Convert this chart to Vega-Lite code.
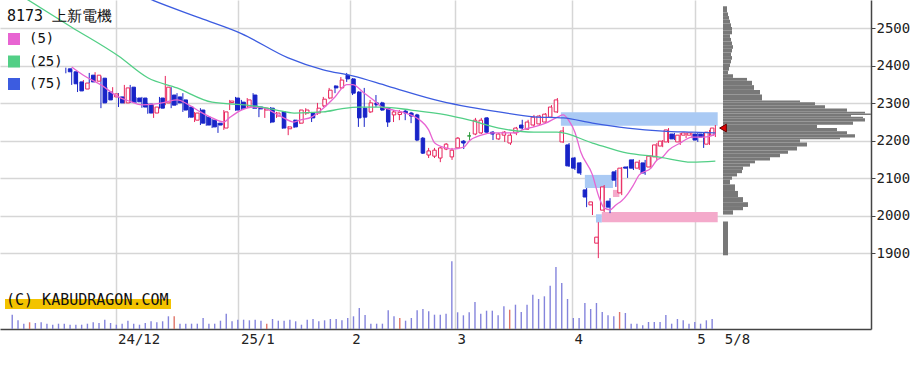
{
"$schema": "https://vega.github.io/schema/vega-lite/v6.json",
"width": 871, "height": 329,
"autosize": "none",
"padding": {"left": 0, "top": 0, "right": 53, "bottom": 36},
"background": "white",
"config": {"view": {"stroke": null}, "font": "DejaVu Sans Mono"},
"datasets": {
"candles": [
{"i":0,"o":2565,"h":2572,"l":2500,"c":2508,"v":143,"k":"n"},
{"i":1,"o":2505,"h":2515,"l":2498,"c":2510,"v":87,"k":"n"},
{"i":2,"o":2505,"h":2516,"l":2500,"c":2512,"v":53,"k":"n"},
{"i":3,"o":2506,"h":2518,"l":2500,"c":2513,"v":67,"k":"r"},
{"i":4,"o":2500,"h":2505,"l":2440,"c":2447,"v":60,"k":"n"},
{"i":5,"o":2442,"h":2455,"l":2436,"c":2450,"v":67,"k":"n"},
{"i":6,"o":2440,"h":2452,"l":2434,"c":2448,"v":53,"k":"n"},
{"i":7,"o":2443,"h":2456,"l":2440,"c":2451,"v":43,"k":"n"},
{"i":8,"o":2444,"h":2455,"l":2436,"c":2450,"v":53,"k":"n"},
{"i":9,"o":2440,"h":2442,"l":2390,"c":2396,"v":53,"k":"n"},
{"i":10,"o":2392,"h":2395,"l":2380,"c":2384,"v":43,"k":"n"},
{"i":11,"o":2384,"h":2389,"l":2349,"c":2352,"v":43,"k":"n"},
{"i":12,"o":2357,"h":2362,"l":2330,"c":2333,"v":43,"k":"n"},
{"i":13,"o":2338,"h":2362,"l":2335,"c":2354,"v":53,"k":"n"},
{"i":14,"o":2375,"h":2381,"l":2354,"c":2357,"v":67,"k":"n"},
{"i":15,"o":2359,"h":2383,"l":2357,"c":2375,"v":60,"k":"n"},
{"i":16,"o":2367,"h":2372,"l":2287,"c":2301,"v":93,"k":"n"},
{"i":17,"o":2330,"h":2343,"l":2303,"c":2309,"v":60,"k":"n"},
{"i":18,"o":2317,"h":2343,"l":2314,"c":2325,"v":43,"k":"n"},
{"i":19,"o":2317,"h":2327,"l":2290,"c":2301,"v":53,"k":"n"},
{"i":20,"o":2301,"h":2349,"l":2299,"c":2341,"v":83,"k":"n"},
{"i":21,"o":2343,"h":2349,"l":2301,"c":2303,"v":53,"k":"n"},
{"i":22,"o":2314,"h":2316,"l":2301,"c":2304,"v":43,"k":"n"},
{"i":23,"o":2314,"h":2317,"l":2288,"c":2290,"v":60,"k":"n"},
{"i":24,"o":2298,"h":2301,"l":2272,"c":2274,"v":77,"k":"n"},
{"i":25,"o":2274,"h":2295,"l":2261,"c":2290,"v":67,"k":"n"},
{"i":26,"o":2314,"h":2317,"l":2286,"c":2287,"v":77,"k":"n"},
{"i":27,"o":2301,"h":2373,"l":2295,"c":2343,"v":127,"k":"n"},
{"i":28,"o":2322,"h":2343,"l":2287,"c":2295,"v":127,"k":"r"},
{"i":29,"o":2317,"h":2327,"l":2295,"c":2301,"v":53,"k":"n"},
{"i":30,"o":2309,"h":2327,"l":2277,"c":2282,"v":53,"k":"n"},
{"i":31,"o":2290,"h":2295,"l":2261,"c":2263,"v":53,"k":"n"},
{"i":32,"o":2255,"h":2277,"l":2250,"c":2274,"v":53,"k":"n"},
{"i":33,"o":2282,"h":2287,"l":2242,"c":2247,"v":110,"k":"n"},
{"i":34,"o":2263,"h":2266,"l":2240,"c":2242,"v":53,"k":"n"},
{"i":35,"o":2255,"h":2258,"l":2234,"c":2237,"v":53,"k":"n"},
{"i":36,"o":2247,"h":2248,"l":2221,"c":2242,"v":83,"k":"n"},
{"i":37,"o":2234,"h":2282,"l":2229,"c":2277,"v":153,"k":"n"},
{"i":38,"o":2302,"h":2309,"l":2282,"c":2306,"v":77,"k":"n"},
{"i":39,"o":2314,"h":2317,"l":2280,"c":2282,"v":93,"k":"n"},
{"i":40,"o":2303,"h":2309,"l":2282,"c":2287,"v":93,"k":"n"},
{"i":41,"o":2290,"h":2314,"l":2287,"c":2309,"v":87,"k":"n"},
{"i":42,"o":2322,"h":2327,"l":2285,"c":2287,"v":93,"k":"n"},
{"i":43,"o":2290,"h":2292,"l":2263,"c":2285,"v":83,"k":"n"},
{"i":44,"o":2282,"h":2290,"l":2261,"c":2287,"v":53,"k":"r"},
{"i":45,"o":2287,"h":2290,"l":2247,"c":2250,"v":100,"k":"n"},
{"i":46,"o":2266,"h":2277,"l":2261,"c":2274,"v":83,"k":"n"},
{"i":47,"o":2277,"h":2279,"l":2232,"c":2234,"v":83,"k":"n"},
{"i":48,"o":2232,"h":2239,"l":2215,"c":2237,"v":93,"k":"n"},
{"i":49,"o":2255,"h":2256,"l":2234,"c":2237,"v":77,"k":"n"},
{"i":50,"o":2247,"h":2283,"l":2245,"c":2282,"v":43,"k":"n"},
{"i":51,"o":2274,"h":2287,"l":2269,"c":2282,"v":93,"k":"n"},
{"i":52,"o":2274,"h":2277,"l":2250,"c":2261,"v":100,"k":"n"},
{"i":53,"o":2274,"h":2301,"l":2269,"c":2287,"v":77,"k":"n"},
{"i":54,"o":2293,"h":2317,"l":2290,"c":2311,"v":87,"k":"n"},
{"i":55,"o":2314,"h":2341,"l":2311,"c":2335,"v":100,"k":"n"},
{"i":56,"o":2346,"h":2348,"l":2327,"c":2341,"v":100,"k":"n"},
{"i":57,"o":2341,"h":2370,"l":2339,"c":2362,"v":87,"k":"n"},
{"i":58,"o":2375,"h":2381,"l":2357,"c":2365,"v":110,"k":"n"},
{"i":59,"o":2365,"h":2367,"l":2322,"c":2327,"v":127,"k":"n"},
{"i":60,"o":2330,"h":2332,"l":2237,"c":2261,"v":210,"k":"n"},
{"i":61,"o":2287,"h":2341,"l":2237,"c":2263,"v":140,"k":"n"},
{"i":62,"o":2277,"h":2309,"l":2274,"c":2301,"v":53,"k":"n"},
{"i":63,"o":2301,"h":2322,"l":2290,"c":2296,"v":53,"k":"n"},
{"i":64,"o":2301,"h":2304,"l":2280,"c":2282,"v":53,"k":"n"},
{"i":65,"o":2287,"h":2290,"l":2237,"c":2250,"v":187,"k":"n"},
{"i":66,"o":2269,"h":2282,"l":2250,"c":2277,"v":127,"k":"n"},
{"i":67,"o":2270,"h":2282,"l":2255,"c":2276,"v":110,"k":"r"},
{"i":68,"o":2279,"h":2282,"l":2255,"c":2274,"v":83,"k":"n"},
{"i":69,"o":2274,"h":2277,"l":2247,"c":2266,"v":110,"k":"n"},
{"i":70,"o":2269,"h":2272,"l":2199,"c":2202,"v":187,"k":"n"},
{"i":71,"o":2207,"h":2210,"l":2165,"c":2167,"v":200,"k":"n"},
{"i":72,"o":2162,"h":2181,"l":2154,"c":2173,"v":177,"k":"n"},
{"i":73,"o":2159,"h":2181,"l":2154,"c":2175,"v":143,"k":"n"},
{"i":74,"o":2154,"h":2183,"l":2143,"c":2181,"v":143,"k":"n"},
{"i":75,"o":2178,"h":2194,"l":2175,"c":2191,"v":153,"k":"n"},
{"i":76,"o":2157,"h":2181,"l":2149,"c":2175,"v":677,"k":"n"},
{"i":77,"o":2181,"h":2210,"l":2179,"c":2207,"v":167,"k":"n"},
{"i":78,"o":2199,"h":2202,"l":2178,"c":2194,"v":137,"k":"n"},
{"i":79,"o":2213,"h":2223,"l":2202,"c":2213,"v":167,"k":"n"},
{"i":80,"o":2218,"h":2261,"l":2215,"c":2255,"v":270,"k":"n"},
{"i":81,"o":2221,"h":2261,"l":2218,"c":2255,"v":153,"k":"n"},
{"i":82,"o":2261,"h":2263,"l":2220,"c":2223,"v":183,"k":"n"},
{"i":83,"o":2223,"h":2226,"l":2202,"c":2218,"v":183,"k":"n"},
{"i":84,"o":2205,"h":2221,"l":2202,"c":2218,"v":137,"k":"n"},
{"i":85,"o":2215,"h":2226,"l":2197,"c":2223,"v":227,"k":"n"},
{"i":86,"o":2194,"h":2221,"l":2189,"c":2215,"v":193,"k":"r"},
{"i":87,"o":2221,"h":2237,"l":2215,"c":2234,"v":243,"k":"n"},
{"i":88,"o":2242,"h":2256,"l":2229,"c":2234,"v":170,"k":"n"},
{"i":89,"o":2231,"h":2256,"l":2229,"c":2250,"v":243,"k":"n"},
{"i":90,"o":2242,"h":2269,"l":2237,"c":2263,"v":343,"k":"n"},
{"i":91,"o":2245,"h":2269,"l":2242,"c":2266,"v":300,"k":"n"},
{"i":92,"o":2250,"h":2274,"l":2247,"c":2271,"v":327,"k":"n"},
{"i":93,"o":2263,"h":2295,"l":2261,"c":2290,"v":433,"k":"n"},
{"i":94,"o":2277,"h":2314,"l":2274,"c":2309,"v":620,"k":"n"},
{"i":95,"o":2197,"h":2237,"l":2194,"c":2226,"v":460,"k":"n"},
{"i":96,"o":2189,"h":2194,"l":2130,"c":2133,"v":300,"k":"n"},
{"i":97,"o":2154,"h":2157,"l":2122,"c":2127,"v":110,"k":"n"},
{"i":98,"o":2141,"h":2143,"l":2109,"c":2114,"v":110,"k":"n"},
{"i":99,"o":2069,"h":2074,"l":2023,"c":2050,"v":260,"k":"n"},
{"i":100,"o":2029,"h":2037,"l":2002,"c":2037,"v":200,"k":"n"},
{"i":101,"o":1927,"h":1983,"l":1887,"c":1943,"v":260,"k":"n"},
{"i":102,"o":2015,"h":2082,"l":2010,"c":2077,"v":170,"k":"n"},
{"i":103,"o":2039,"h":2047,"l":2007,"c":2023,"v":137,"k":"n"},
{"i":104,"o":2117,"h":2122,"l":2077,"c":2095,"v":127,"k":"n"},
{"i":105,"o":2061,"h":2130,"l":2055,"c":2127,"v":170,"k":"r"},
{"i":106,"o":2130,"h":2132,"l":2101,"c":2127,"v":160,"k":"n"},
{"i":107,"o":2149,"h":2151,"l":2122,"c":2127,"v":53,"k":"n"},
{"i":108,"o":2127,"h":2149,"l":2122,"c":2143,"v":53,"k":"n"},
{"i":109,"o":2141,"h":2149,"l":2109,"c":2114,"v":37,"k":"n"},
{"i":110,"o":2130,"h":2162,"l":2127,"c":2159,"v":70,"k":"n"},
{"i":111,"o":2157,"h":2194,"l":2149,"c":2189,"v":70,"k":"n"},
{"i":112,"o":2186,"h":2202,"l":2183,"c":2199,"v":70,"k":"n"},
{"i":113,"o":2197,"h":2234,"l":2194,"c":2229,"v":140,"k":"n"},
{"i":114,"o":2218,"h":2221,"l":2202,"c":2205,"v":53,"k":"n"},
{"i":115,"o":2197,"h":2221,"l":2189,"c":2215,"v":100,"k":"n"},
{"i":116,"o":2215,"h":2223,"l":2207,"c":2221,"v":87,"k":"n"},
{"i":117,"o":2215,"h":2223,"l":2207,"c":2221,"v":53,"k":"n"},
{"i":118,"o":2218,"h":2221,"l":2197,"c":2202,"v":70,"k":"n"},
{"i":119,"o":2218,"h":2221,"l":2181,"c":2210,"v":53,"k":"n"},
{"i":120,"o":2191,"h":2229,"l":2189,"c":2223,"v":87,"k":"n"},
{"i":121,"o":2215,"h":2242,"l":2210,"c":2234,"v":100,"k":"n"}
],
"ma": [
{"ma":"(5)","i":11,"p":2397},{"ma":"(5)","i":13,"p":2375},{"ma":"(5)","i":16,"p":2349},{"ma":"(5)","i":19,"p":2317},
{"ma":"(5)","i":21,"p":2305},{"ma":"(5)","i":23,"p":2296},{"ma":"(5)","i":25,"p":2298},{"ma":"(5)","i":27,"p":2303},
{"ma":"(5)","i":29,"p":2309},{"ma":"(5)","i":31,"p":2296},{"ma":"(5)","i":33,"p":2277},{"ma":"(5)","i":35,"p":2261},
{"ma":"(5)","i":37,"p":2250},{"ma":"(5)","i":38,"p":2262},{"ma":"(5)","i":40,"p":2282},{"ma":"(5)","i":42,"p":2290},
{"ma":"(5)","i":44,"p":2287},{"ma":"(5)","i":45,"p":2280},{"ma":"(5)","i":47,"p":2263},{"ma":"(5)","i":49,"p":2250},
{"ma":"(5)","i":50,"p":2255},{"ma":"(5)","i":52,"p":2263},{"ma":"(5)","i":54,"p":2287},{"ma":"(5)","i":56,"p":2317},
{"ma":"(5)","i":58,"p":2350},{"ma":"(5)","i":59,"p":2350},{"ma":"(5)","i":61,"p":2327},{"ma":"(5)","i":63,"p":2303},
{"ma":"(5)","i":64,"p":2290},{"ma":"(5)","i":66,"p":2282},{"ma":"(5)","i":68,"p":2274},{"ma":"(5)","i":70,"p":2261},
{"ma":"(5)","i":72,"p":2229},{"ma":"(5)","i":73,"p":2195},{"ma":"(5)","i":75,"p":2181},{"ma":"(5)","i":76,"p":2178},
{"ma":"(5)","i":78,"p":2183},{"ma":"(5)","i":79,"p":2200},{"ma":"(5)","i":81,"p":2215},{"ma":"(5)","i":83,"p":2221},
{"ma":"(5)","i":85,"p":2221},{"ma":"(5)","i":87,"p":2221},{"ma":"(5)","i":88,"p":2229},{"ma":"(5)","i":90,"p":2237},
{"ma":"(5)","i":92,"p":2247},{"ma":"(5)","i":94,"p":2263},{"ma":"(5)","i":95,"p":2269},{"ma":"(5)","i":96,"p":2253},
{"ma":"(5)","i":97,"p":2223},{"ma":"(5)","i":98,"p":2170},{"ma":"(5)","i":100,"p":2109},{"ma":"(5)","i":101,"p":2055},
{"ma":"(5)","i":102,"p":2021},{"ma":"(5)","i":103,"p":2016},{"ma":"(5)","i":104,"p":2029},{"ma":"(5)","i":105,"p":2040},
{"ma":"(5)","i":106,"p":2058},{"ma":"(5)","i":107,"p":2082},{"ma":"(5)","i":108,"p":2109},{"ma":"(5)","i":110,"p":2127},
{"ma":"(5)","i":111,"p":2148},{"ma":"(5)","i":112,"p":2157},{"ma":"(5)","i":113,"p":2175},{"ma":"(5)","i":115,"p":2194},
{"ma":"(5)","i":117,"p":2210},{"ma":"(5)","i":119,"p":2210},{"ma":"(5)","i":120,"p":2212},{"ma":"(5)","i":121,"p":2218},
{"ma":"(25)","i":3,"p":2581},{"ma":"(25)","i":11,"p":2503},{"ma":"(25)","i":19,"p":2426},{"ma":"(25)","i":24,"p":2368},
{"ma":"(25)","i":29,"p":2341},{"ma":"(25)","i":35,"p":2303},{"ma":"(25)","i":41,"p":2295},{"ma":"(25)","i":43,"p":2291},
{"ma":"(25)","i":46,"p":2282},{"ma":"(25)","i":49,"p":2274},{"ma":"(25)","i":54,"p":2277},{"ma":"(25)","i":57,"p":2285},
{"ma":"(25)","i":60,"p":2290},{"ma":"(25)","i":64,"p":2290},{"ma":"(25)","i":69,"p":2282},{"ma":"(25)","i":75,"p":2269},
{"ma":"(25)","i":79,"p":2255},{"ma":"(25)","i":84,"p":2234},{"ma":"(25)","i":90,"p":2223},{"ma":"(25)","i":94,"p":2223},
{"ma":"(25)","i":100,"p":2194},{"ma":"(25)","i":106,"p":2167},{"ma":"(25)","i":111,"p":2158},{"ma":"(25)","i":117,"p":2143},
{"ma":"(25)","i":121,"p":2146},
{"ma":"(75)","i":20,"p":2607},{"ma":"(75)","i":25,"p":2574},{"ma":"(75)","i":33,"p":2527},{"ma":"(75)","i":40,"p":2486},
{"ma":"(75)","i":48,"p":2421},{"ma":"(75)","i":54,"p":2389},{"ma":"(75)","i":59,"p":2373},{"ma":"(75)","i":65,"p":2346},
{"ma":"(75)","i":74,"p":2306},{"ma":"(75)","i":79,"p":2290},{"ma":"(75)","i":84,"p":2277},{"ma":"(75)","i":90,"p":2264},
{"ma":"(75)","i":95,"p":2261},{"ma":"(75)","i":100,"p":2247},{"ma":"(75)","i":106,"p":2234},{"ma":"(75)","i":112,"p":2226},
{"ma":"(75)","i":117,"p":2223},{"ma":"(75)","i":121,"p":2221}
],
"gaps": [
{"x1":94.6,"x2":121.4,"lo":2240,"hi":2276,"kind":"down"},
{"x1":98.7,"x2":103.5,"lo":2074,"hi":2109,"kind":"down"},
{"x1":103.5,"x2":104.6,"lo":2050,"hi":2069,"kind":"up"},
{"x1":100.6,"x2":101.6,"lo":1982,"hi":2004,"kind":"down"},
{"x1":101.6,"x2":121.4,"lo":1983,"hi":2010,"kind":"up"}
],
"profile": [
{"lo":2555,"hi":2572,"v":4},{"lo":2545,"hi":2555,"v":5},{"lo":2535,"hi":2545,"v":6},{"lo":2525,"hi":2535,"v":7},
{"lo":2515,"hi":2525,"v":8},{"lo":2505,"hi":2515,"v":9},{"lo":2495,"hi":2505,"v":9},{"lo":2485,"hi":2495,"v":7},
{"lo":2475,"hi":2485,"v":8},{"lo":2465,"hi":2475,"v":9},{"lo":2455,"hi":2465,"v":10},{"lo":2445,"hi":2455,"v":9},
{"lo":2435,"hi":2445,"v":8},{"lo":2425,"hi":2435,"v":9},{"lo":2415,"hi":2425,"v":8},{"lo":2405,"hi":2415,"v":7},
{"lo":2395,"hi":2405,"v":6},{"lo":2385,"hi":2395,"v":5},{"lo":2375,"hi":2385,"v":10},{"lo":2367,"hi":2375,"v":24},
{"lo":2355,"hi":2367,"v":29},{"lo":2342,"hi":2355,"v":31},{"lo":2329,"hi":2342,"v":37},{"lo":2313,"hi":2329,"v":39},
{"lo":2308,"hi":2313,"v":77},{"lo":2300,"hi":2308,"v":92},{"lo":2291,"hi":2300,"v":102},{"lo":2282,"hi":2291,"v":124},
{"lo":2277,"hi":2282,"v":142},{"lo":2273,"hi":2277,"v":148},{"lo":2268,"hi":2273,"v":128},{"lo":2264,"hi":2268,"v":140},
{"lo":2255,"hi":2264,"v":142},{"lo":2246,"hi":2255,"v":130},{"lo":2237,"hi":2246,"v":94},{"lo":2228,"hi":2237,"v":114},
{"lo":2220,"hi":2228,"v":124},{"lo":2211,"hi":2220,"v":132},{"lo":2206,"hi":2211,"v":117},{"lo":2197,"hi":2206,"v":77},
{"lo":2186,"hi":2197,"v":84},{"lo":2175,"hi":2186,"v":74},{"lo":2166,"hi":2175,"v":65},{"lo":2157,"hi":2166,"v":57},
{"lo":2148,"hi":2157,"v":47},{"lo":2140,"hi":2148,"v":32},{"lo":2131,"hi":2140,"v":27},{"lo":2122,"hi":2131,"v":20},
{"lo":2113,"hi":2122,"v":19},{"lo":2104,"hi":2113,"v":14},{"lo":2095,"hi":2104,"v":9},{"lo":2082,"hi":2095,"v":7},
{"lo":2064,"hi":2082,"v":12},{"lo":2047,"hi":2064,"v":15},{"lo":2033,"hi":2047,"v":20},{"lo":2020,"hi":2033,"v":25},
{"lo":2011,"hi":2020,"v":20},{"lo":1999,"hi":2011,"v":10},{"lo":1887,"hi":1980,"v":5}
],
"last": [{"c":2234}]
},
"layer": [
{
"data": {"name": "gaps"},
"mark": {"type": "rect"},
"encoding": {
"x": {"field": "x1", "type": "quantitative", "scale": {"domain": [-1.25, 147.6], "nice": false, "zero": false},
"axis": {"orient": "bottom", "values": [18.5, 39.5, 58.5, 76.5, 96.5, 117.5, 122.2],
"labelExpr": "datum.value < 20 ? '24/12' : datum.value < 40 ? '25/1' : datum.value < 60 ? '2' : datum.value < 80 ? '3' : datum.value < 100 ? '4' : datum.value < 120 ? '5' : '5/8'",
"grid": true, "gridColor": "#d6d6d6", "gridWidth": 1.5,
"gridOpacity": {"condition": {"test": "datum.value > 120", "value": 0}, "value": 1},
"ticks": false, "domainColor": "#444444", "domainWidth": 1.5,
"labelAlign": "left", "labelOffset": 2, "labelFont": "DejaVu Sans Mono", "labelFontSize": 14,
"labelColor": "#222222", "labelPadding": 3, "labelOverlap": false, "title": null}},
"x2": {"field": "x2"},
"y": {"field": "lo", "type": "quantitative", "scale": {"domain": [1698, 2575.5], "nice": false, "zero": false},
"axis": {"orient": "right", "values": [1900, 2000, 2100, 2200, 2300, 2400, 2500], "format": "d",
"grid": true, "gridColor": "#d6d6d6", "gridWidth": 1.5, "tickSize": 4, "tickColor": "#444444",
"domainColor": "#444444", "domainWidth": 1.5, "labelFont": "DejaVu Sans Mono", "labelFontSize": 14,
"labelColor": "#222222", "labelPadding": 1, "title": null}},
"y2": {"field": "hi"},
"fill": {"field": "kind", "type": "nominal", "scale": {"domain": ["down", "up"], "range": ["#aacaf4", "#f4aacb"]}, "legend": null}
}
},
{
"data": {"name": "candles"},
"mark": {"type": "bar", "orient": "vertical", "size": 1.4, "strokeWidth": 0},
"encoding": {
"x": {"field": "i", "type": "quantitative", "scale": {"domain": [-1.25, 147.6], "nice": false, "zero": false}, "axis": null},
"y": {"field": "v", "type": "quantitative", "scale": {"domain": [0, 3290], "nice": false}, "axis": null},
"fill": {"condition": {"test": "datum.k == 'r'", "value": "#e07468"}, "value": "#8484dc"},
"stroke": {"field": "k", "type": "nominal", "scale": {"domain": ["n", "r"], "range": ["#8484dc", "#e07468"]},
"legend": {"values": ["r"], "labelExpr": "''", "title": "(C) KABUDRAGON.COM", "orient": "none", "direction": "horizontal",
"titleOrient": "left", "legendX": 5, "legendY": 299, "fillColor": "#f3c300", "padding": 1,
"symbolSize": 0, "symbolStrokeWidth": 0, "labelOffset": 0, "labelFontSize": 1, "columnPadding": 0,
"titleFont": "DejaVu Sans Mono", "titleFontSize": 15, "titleFontWeight": "normal", "titleColor": "#111111", "titlePadding": 0}}
}
},
{
"data": {"name": "candles"},
"transform": [{"filter": "datum.i >= 10"}],
"mark": {"type": "rule", "strokeWidth": 1},
"encoding": {
"x": {"field": "i", "type": "quantitative", "scale": {"domain": [-1.25, 147.6], "nice": false, "zero": false}, "axis": null},
"y": {"field": "l", "type": "quantitative", "scale": {"domain": [1698, 2575.5], "nice": false, "zero": false}, "axis": null},
"y2": {"field": "h"},
"stroke": {"condition": [{"test": "datum.c > datum.o", "value": "#e8245c"}, {"test": "datum.c < datum.o", "value": "#1824c8"}], "value": "#2a9a3a"}
}
},
{
"data": {"name": "candles"},
"transform": [{"filter": "datum.i >= 10"}],
"mark": {"type": "bar", "orient": "vertical", "size": 3.5, "strokeWidth": 1},
"encoding": {
"x": {"field": "i", "type": "quantitative", "scale": {"domain": [-1.25, 147.6], "nice": false, "zero": false}, "axis": null},
"y": {"field": "o", "type": "quantitative", "scale": {"domain": [1698, 2575.5], "nice": false, "zero": false}, "axis": null},
"y2": {"field": "c"},
"fill": {"condition": [{"test": "datum.c > datum.o", "value": "#ffffff"}, {"test": "datum.c < datum.o", "value": "#1824c8"}], "value": "#2a9a3a"},
"stroke": {"condition": [{"test": "datum.c > datum.o", "value": "#e8245c"}, {"test": "datum.c < datum.o", "value": "#1824c8"}], "value": "#2a9a3a"}
}
},
{
"data": {"name": "ma"},
"mark": {"type": "line", "clip": true, "strokeWidth": 1.3, "interpolate": "monotone"},
"encoding": {
"x": {"field": "i", "type": "quantitative", "scale": {"domain": [-1.25, 147.6], "nice": false, "zero": false}, "axis": null},
"y": {"field": "p", "type": "quantitative", "scale": {"domain": [1698, 2575.5], "nice": false, "zero": false}, "axis": null},
"color": {"field": "ma", "type": "nominal", "scale": {"domain": ["(5)", "(25)", "(75)"], "range": ["#e864d2", "#52cf86", "#3c5ce0"]},
"legend": {"title": "8173 上新電機", "orient": "none", "legendX": 5, "legendY": 7, "padding": 2,
"symbolType": "square", "symbolSize": 36, "symbolStrokeWidth": 6,
"labelFont": "DejaVu Sans Mono", "labelFontSize": 14, "labelColor": "#111111",
"titleFont": "DejaVu Sans Mono", "titleFontSize": 15, "titleFontWeight": "normal", "titleColor": "#111111",
"titlePadding": 8, "rowPadding": -7.5, "labelOffset": 8}}
}
},
{
"data": {"name": "profile"},
"mark": {"type": "bar", "orient": "horizontal", "fill": "#787878"},
"encoding": {
"x": {"field": "v", "type": "quantitative", "scale": {"domain": [-723, 148], "nice": false, "zero": false}, "axis": null},
"y": {"field": "lo", "type": "quantitative", "scale": {"domain": [1698, 2575.5], "nice": false, "zero": false}, "axis": null},
"y2": {"field": "hi"}
}
},
{
"data": {"name": "last"},
"mark": {"type": "point", "shape": "triangle-left", "filled": true, "fill": "#e00000", "stroke": "#660000", "strokeWidth": 1, "size": 60, "opacity": 1},
"encoding": {
"x": {"datum": 0, "type": "quantitative", "scale": {"domain": [-723, 148], "nice": false, "zero": false}, "axis": null},
"y": {"field": "c", "type": "quantitative", "scale": {"domain": [1698, 2575.5], "nice": false, "zero": false}, "axis": null}
}
}
],
"resolve": {"scale": {"x": "independent", "y": "independent"}}
}
